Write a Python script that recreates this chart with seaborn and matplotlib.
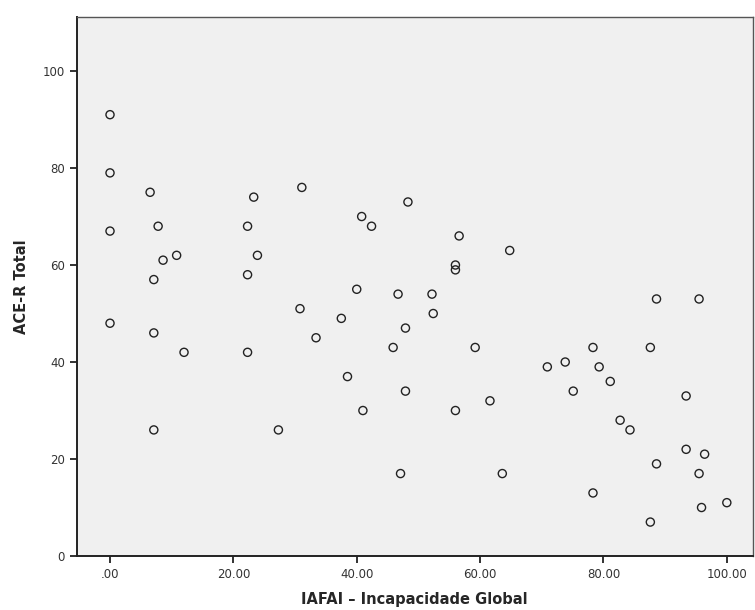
import pandas as pd
import numpy as np
import matplotlib.pyplot as plt
import seaborn as sns
from matplotlib.ticker import FuncFormatter

# IAFAI - Incapacidade Global (x) vs ACE-R Total (y)
iafai = [0.0, 0.0, 0.0, 0.0, 6.5, 7.8, 8.6, 10.8, 7.1, 7.1, 7.1, 12.0,
         22.3, 23.3, 22.3, 23.9, 22.3, 27.3, 31.1, 30.8, 33.4, 37.5, 38.5,
         40.0, 40.8, 41.0, 42.4, 45.9, 46.7, 47.1, 47.9, 47.9, 48.3, 52.2,
         52.4, 56.0, 56.0, 56.0, 56.6, 59.2, 61.6, 63.6, 64.8, 70.9, 73.8,
         75.1, 78.3, 78.3, 79.3, 81.1, 82.7, 84.3, 87.6, 87.6, 88.6, 88.6,
         93.4, 93.4, 95.5, 95.5, 95.9, 96.4, 100.0]
ace_r = [91, 79, 67, 48, 75, 68, 61, 62, 57, 46, 26, 42,
         68, 74, 58, 62, 42, 26, 76, 51, 45, 49, 37,
         55, 70, 30, 68, 43, 54, 17, 47, 34, 73, 54,
         50, 60, 59, 30, 66, 43, 32, 17, 63, 39, 40,
         34, 43, 13, 39, 36, 28, 26, 43, 7, 53, 19,
         33, 22, 53, 17, 10, 21, 11]

x_ticks = [0, 20, 40, 60, 80, 100]
y_ticks = [0, 20, 40, 60, 80, 100]

df = pd.DataFrame({"IAFAI": iafai, "ACE": ace_r})

sns.set_style("ticks")
plt.rcParams['font.family'] = ['DejaVu Sans']

fig = plt.figure(figsize=(7.55, 6.1), dpi=100)
ax = fig.add_axes([0.1016, 0.0885, 0.8954, 0.8841])
ax.set_facecolor("#f0f0f0")

sns.scatterplot(data=df, x="IAFAI", y="ACE", ax=ax, marker="o",
                facecolor="none", edgecolor="#222222", linewidth=1.0, s=34)

ax.set_xlim(-5.4, 104.2)
ax.set_ylim(0, 111.2)
ax.set_xticks(x_ticks)
ax.set_yticks(y_ticks)
ax.xaxis.set_major_formatter(FuncFormatter(lambda v, p: ".00" if v == 0 else f"{v:.2f}"))
ax.yaxis.set_major_formatter(FuncFormatter(lambda v, p: f"{v:.0f}"))
ax.tick_params(axis="both", direction="out", length=5, width=1.3, color="#222222",
               labelsize=8.5, labelcolor="#333333")

for side in ["left", "bottom"]:
    ax.spines[side].set_color("#222222")
    ax.spines[side].set_linewidth(1.4)
for side in ["top", "right"]:
    ax.spines[side].set_visible(True)
    ax.spines[side].set_color("#555555")
    ax.spines[side].set_linewidth(1.0)

ax.set_xlabel("IAFAI \u2013 Incapacidade Global", fontsize=10.5, fontweight="bold", labelpad=8)
ax.set_ylabel("ACE-R Total", fontsize=10.5, fontweight="bold", labelpad=10)

plt.savefig("out.png", dpi=100)
plt.close()
